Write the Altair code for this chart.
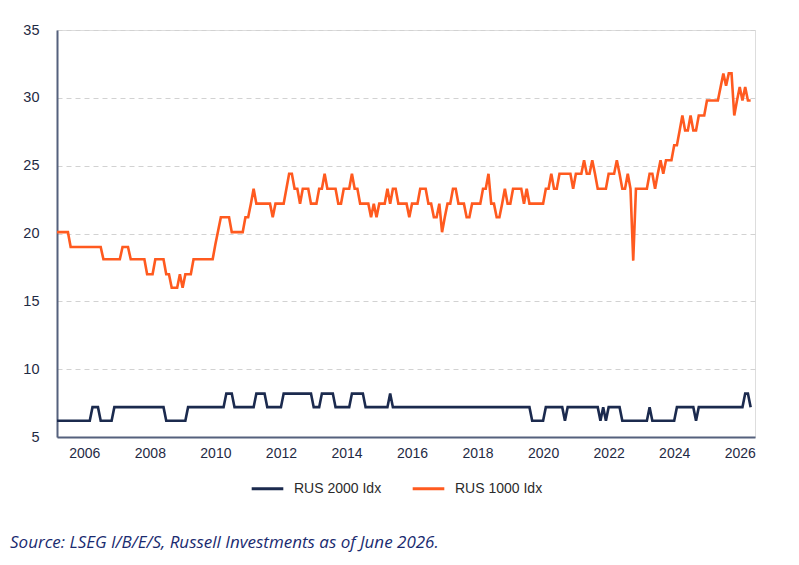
import altair as alt
import pandas as pd

# Monthly forward P/E, first observation March 2005
START_YEAR = 2005 + 2 / 12
SERIES = ["RUS 2000 Idx", "RUS 1000 Idx"]
COLORS = ["#1b2a4e", "#ff5a1f"]
YEAR_TICKS = [2006, 2008, 2010, 2012, 2014, 2016, 2018, 2020, 2022, 2024, 2026]
VALUE_TICKS = [5, 10, 15, 20, 25, 30, 35]
SOURCE_NOTE = "Source: LSEG I/B/E/S, Russell Investments as of June 2026."

rus1000 = [
    20.1, 20.1, 20.1, 20.1, 20.1, 19.0, 19.0, 19.0, 19.0, 19.0,                  # 2005
    19.0, 19.0, 19.0, 19.0, 19.0, 19.0, 19.0, 18.1, 18.1, 18.1, 18.1, 18.1,      # 2006
    18.1, 18.1, 19.0, 19.0, 19.0, 18.1, 18.1, 18.1, 18.1, 18.1, 18.1, 17.0,      # 2007
    17.0, 17.0, 18.1, 18.1, 18.1, 18.1, 17.0, 17.0, 16.0, 16.0, 16.0, 17.0,      # 2008
    16.0, 17.0, 17.0, 17.0, 18.1, 18.1, 18.1, 18.1, 18.1, 18.1, 18.1, 18.1,      # 2009
    19.2, 20.2, 21.2, 21.2, 21.2, 21.2, 20.1, 20.1, 20.1, 20.1, 20.1, 21.2,      # 2010
    21.2, 22.2, 23.3, 22.2, 22.2, 22.2, 22.2, 22.2, 22.2, 21.2, 22.2, 22.2,      # 2011
    22.2, 22.2, 23.3, 24.4, 24.4, 23.3, 23.3, 22.2, 23.3, 23.3, 23.3, 22.2,      # 2012
    22.2, 22.2, 23.3, 23.3, 24.4, 23.3, 23.3, 23.3, 23.3, 22.2, 22.2, 23.3,      # 2013
    23.3, 23.3, 24.4, 23.3, 23.3, 22.2, 22.2, 22.2, 22.2, 21.2, 22.2, 21.2,      # 2014
    22.2, 22.2, 22.2, 23.3, 22.2, 23.3, 23.3, 22.2, 22.2, 22.2, 22.2, 21.2,      # 2015
    22.2, 22.2, 22.2, 23.3, 23.3, 23.3, 22.2, 22.2, 21.2, 21.2, 22.2, 20.1,      # 2016
    21.2, 22.2, 22.2, 23.3, 23.3, 22.2, 22.2, 22.2, 21.2, 21.2, 22.2, 22.2,      # 2017
    22.2, 22.2, 23.3, 23.3, 24.4, 22.2, 22.2, 21.2, 21.2, 22.2, 23.3, 22.2,      # 2018
    22.2, 23.3, 23.3, 23.3, 23.3, 22.2, 23.3, 22.2, 22.2, 22.2, 22.2, 22.2,      # 2019
    22.2, 23.3, 23.3, 24.4, 23.3, 23.3, 24.4, 24.4, 24.4, 24.4, 24.4, 23.3,      # 2020
    24.4, 24.4, 24.4, 25.4, 24.4, 24.4, 25.4, 24.4, 23.3, 23.3, 23.3, 23.3,      # 2021
    24.4, 24.4, 24.4, 25.4, 24.4, 23.3, 23.3, 24.4, 23.3, 18.0, 23.3, 23.3,      # 2022
    23.3, 23.3, 23.3, 24.4, 24.4, 23.3, 24.4, 25.4, 24.4, 25.4, 25.4, 25.4,      # 2023
    26.5, 26.5, 27.6, 28.7, 27.6, 27.6, 28.7, 27.6, 27.6, 28.7, 28.7, 28.7,      # 2024
    29.8, 29.8, 29.8, 29.8, 29.8, 30.8, 31.8, 30.9, 31.8, 31.8, 28.7, 29.8,      # 2025
    30.8, 29.8, 30.8, 29.8, 29.8,                                                # 2026
]

rus2000 = [
    6.2, 6.2, 6.2, 6.2, 6.2, 6.2, 6.2, 6.2, 6.2, 6.2,                            # 2005
    6.2, 6.2, 6.2, 7.2, 7.2, 7.2, 6.2, 6.2, 6.2, 6.2, 6.2, 7.2,                  # 2006
    7.2, 7.2, 7.2, 7.2, 7.2, 7.2, 7.2, 7.2, 7.2, 7.2, 7.2, 7.2,                  # 2007
    7.2, 7.2, 7.2, 7.2, 7.2, 7.2, 6.2, 6.2, 6.2, 6.2, 6.2, 6.2,                  # 2008
    6.2, 6.2, 7.2, 7.2, 7.2, 7.2, 7.2, 7.2, 7.2, 7.2, 7.2, 7.2,                  # 2009
    7.2, 7.2, 7.2, 7.2, 8.2, 8.2, 8.2, 7.2, 7.2, 7.2, 7.2, 7.2,                  # 2010
    7.2, 7.2, 7.2, 8.2, 8.2, 8.2, 8.2, 7.2, 7.2, 7.2, 7.2, 7.2,                  # 2011
    7.2, 8.2, 8.2, 8.2, 8.2, 8.2, 8.2, 8.2, 8.2, 8.2, 8.2, 8.2,                  # 2012
    7.2, 7.2, 7.2, 8.2, 8.2, 8.2, 8.2, 8.2, 7.2, 7.2, 7.2, 7.2,                  # 2013
    7.2, 7.2, 8.2, 8.2, 8.2, 8.2, 8.2, 7.2, 7.2, 7.2, 7.2, 7.2,                  # 2014
    7.2, 7.2, 7.2, 7.2, 8.2, 7.2, 7.2, 7.2, 7.2, 7.2, 7.2, 7.2,                  # 2015
    7.2, 7.2, 7.2, 7.2, 7.2, 7.2, 7.2, 7.2, 7.2, 7.2, 7.2, 7.2,                  # 2016
    7.2, 7.2, 7.2, 7.2, 7.2, 7.2, 7.2, 7.2, 7.2, 7.2, 7.2, 7.2,                  # 2017
    7.2, 7.2, 7.2, 7.2, 7.2, 7.2, 7.2, 7.2, 7.2, 7.2, 7.2, 7.2,                  # 2018
    7.2, 7.2, 7.2, 7.2, 7.2, 7.2, 7.2, 7.2, 6.2, 6.2, 6.2, 6.2,                  # 2019
    6.2, 7.2, 7.2, 7.2, 7.2, 7.2, 7.2, 7.2, 6.2, 7.2, 7.2, 7.2,                  # 2020
    7.2, 7.2, 7.2, 7.2, 7.2, 7.2, 7.2, 7.2, 7.2, 6.2, 7.2, 6.2,                  # 2021
    7.2, 7.2, 7.2, 7.2, 7.2, 6.2, 6.2, 6.2, 6.2, 6.2, 6.2, 6.2,                  # 2022
    6.2, 6.2, 6.2, 7.2, 6.2, 6.2, 6.2, 6.2, 6.2, 6.2, 6.2, 6.2,                  # 2023
    6.2, 7.2, 7.2, 7.2, 7.2, 7.2, 7.2, 7.2, 6.2, 7.2, 7.2, 7.2,                  # 2024
    7.2, 7.2, 7.2, 7.2, 7.2, 7.2, 7.2, 7.2, 7.2, 7.2, 7.2, 7.2,                  # 2025
    7.2, 7.2, 8.2, 8.2, 7.2,                                                     # 2026
]

months = [START_YEAR + k / 12 for k in range(len(rus1000))]
frame = pd.DataFrame({
    "year": months + months,
    "value": rus2000 + rus1000,
    "series": [SERIES[0]] * len(rus2000) + [SERIES[1]] * len(rus1000),
})

AXIS_FONT = "Liberation Sans"
AXIS_INK = "#1f2a44"
DOMAIN_INK = "#55617d"

lines = alt.Chart(frame).mark_line(strokeWidth=2.6).encode(
    x=alt.X(
        "year:Q",
        scale=alt.Scale(domain=[START_YEAR, 2026.466], nice=False, zero=False),
        axis=alt.Axis(
            values=YEAR_TICKS, format="d", title=None, grid=False, ticks=False,
            labelFont=AXIS_FONT, labelFontSize=14, labelColor=AXIS_INK,
            labelPadding=9, labelFlush=False, domainColor=DOMAIN_INK, domainWidth=2,
        ),
    ),
    y=alt.Y(
        "value:Q",
        scale=alt.Scale(domain=[5, 35], nice=False, zero=False),
        axis=alt.Axis(
            values=VALUE_TICKS, title=None, ticks=False, grid=True,
            gridColor="#d2d2d2", gridDash=[5, 4], gridWidth=1,
            labelFont=AXIS_FONT, labelFontSize=14.5, labelColor=AXIS_INK,
            labelPadding=18, domainColor=DOMAIN_INK, domainWidth=2,
        ),
    ),
    color=alt.Color(
        "series:N",
        scale=alt.Scale(domain=SERIES, range=COLORS),
        legend=alt.Legend(
            title=None, orient="none", legendX=193, legendY=441,
            direction="horizontal", symbolType="stroke", symbolStrokeWidth=3,
            symbolSize=1000, labelFont=AXIS_FONT, labelFontSize=14,
            labelColor="#2b2b2b", labelOffset=9, columnPadding=24,
        ),
    ),
)

note = alt.Chart(pd.DataFrame({"note": [SOURCE_NOTE]})).mark_text(
    align="left", baseline="middle", font="Open Sans", fontStyle="italic",
    fontSize=17, color="#1a2b70",
).encode(x=alt.value(-47), y=alt.value(513), text="note:N")

chart = alt.layer(lines, note).properties(
    width=698,
    height=407,
    autosize=alt.AutoSizeParams(type="none"),
    padding={"left": 57, "top": 30, "right": 44, "bottom": 128},
).configure_view(stroke=None).configure(background="white")

chart.save("out.html", embed_options={"renderer": "svg", "actions": False})
